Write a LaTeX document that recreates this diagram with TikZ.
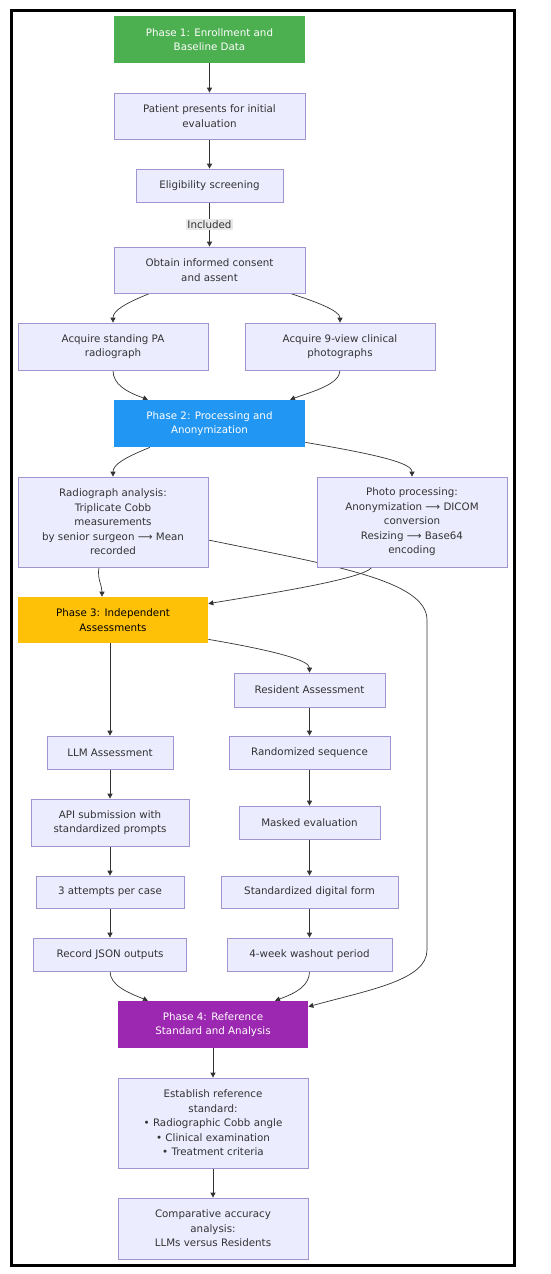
\documentclass[tikz,border=0pt]{standalone}
\usepackage{fontspec}
\setmainfont{DejaVu Sans}
\usetikzlibrary{arrows.meta}
\definecolor{nodefill}{HTML}{ECECFF}
\definecolor{nodeline}{HTML}{A095D2}
\definecolor{edgecol}{HTML}{333333}
\definecolor{txt}{HTML}{333333}
\definecolor{pgreen}{HTML}{4CAF50}
\definecolor{pblue}{HTML}{2196F3}
\definecolor{pamber}{HTML}{FFC107}
\definecolor{ppurple}{HTML}{9C27B0}
\definecolor{lblbg}{HTML}{E8E8E8}
\pgfdeclarelayer{edges}
\pgfsetlayers{edges,main}
\begin{document}
\begin{tikzpicture}[x=1pt,y=-1pt,
  box/.style={draw=nodeline, fill=nodefill, line width=0.7pt, text=txt, align=center,
    inner sep=0pt, font=\fontsize{10.3}{14.5}\selectfont},
  phase/.style={box, draw=none, text=white},
  sz/.style 2 args={minimum width=#1pt, minimum height=#2pt},
  arr/.style={draw=edgecol, line width=0.7pt, -{Triangle[length=5pt,width=5pt]}},
  lbl/.style={fill=lblbg, text=txt, inner sep=1.5pt, font=\fontsize{10.3}{12}\selectfont},
]
\useasboundingbox (0,0) rectangle (550,1274);
\draw[line width=3pt] (11.5,10) rectangle (514,1265);

\node[phase, fill=pgreen, sz={191}{47}] (p1) at (209.5,39.5) {Phase 1: Enrollment and\\Baseline Data};
\node[box, sz={191}{46}] (patient) at (209.5,116) {Patient presents for initial\\evaluation};
\node[box, sz={147}{33}] (elig) at (209.5,185.5) {Eligibility screening};
\node[box, sz={191}{46}] (consent) at (209.5,270) {Obtain informed consent\\and assent};
\node[box, sz={190}{47}] (pa) at (113,346.5) {Acquire standing PA\\radiograph};
\node[box, sz={190}{47}] (nine) at (340,346.5) {Acquire 9-view clinical\\photographs};
\node[phase, fill=pblue, sz={191}{47}] (p2) at (209.5,423.5) {Phase 2: Processing and\\Anonymization};
\node[box, sz={190}{90}] (radio) at (113,522) {Radiograph analysis:\\Triplicate Cobb\\measurements\\by senior surgeon ⟶ Mean\\recorded};
\node[box, sz={190}{90}] (photo) at (412,522) {Photo processing:\\Anonymization ⟶ DICOM\\conversion\\Resizing ⟶ Base64\\encoding};
\node[phase, fill=pamber, text=black, sz={190}{46}] (p3) at (113,620) {Phase 3: Independent\\Assessments};
\node[box, sz={151}{34}] (resident) at (309.5,690) {Resident Assessment};
\node[box, sz={126}{33}] (llm) at (110,752.5) {LLM Assessment};
\node[box, sz={161}{33}] (random) at (309.5,752.5) {Randomized sequence};
\node[box, sz={158}{47}] (api) at (110,822.5) {API submission with\\standardized prompts};
\node[box, sz={141}{33}] (masked) at (309.5,822.5) {Masked evaluation};
\node[box, sz={148}{32}] (attempts) at (110,892) {3 attempts per case};
\node[box, sz={177}{32}] (stdform) at (309.5,892) {Standardized digital form};
\node[box, sz={153}{33}] (record) at (110,954.5) {Record JSON outputs};
\node[box, sz={165}{33}] (washout) at (309.5,954.5) {4-week washout period};
\node[phase, fill=ppurple, sz={190}{47}] (p4) at (213,1024.5) {Phase 4: Reference\\Standard and Analysis};
\node[box, sz={190}{90}] (establish) at (213,1123) {Establish reference\\standard:\\• Radiographic Cobb angle\\• Clinical examination\\• Treatment criteria};
\node[box, sz={190}{61}] (compare) at (213,1228.5) {Comparative accuracy\\analysis:\\LLMs versus Residents};

\coordinate (bendA) at (427,620);
\coordinate (bendB) at (427,950);

\begin{pgfonlayer}{edges}
\draw[arr] (p1) -- (patient);
\draw[arr] (patient) -- (elig);
\draw[arr] (elig) -- node[lbl] {Included} (consent);
\draw[arr] ([xshift=-59.5pt]consent.south) .. controls +(-25,10) and +(0,-12) .. (pa.north);
\draw[arr] ([xshift=80.5pt]consent.south) .. controls +(25,8) and +(0,-12) .. (nine.north);
\draw[arr] (pa.south) .. controls +(0,14) and +(-22,-8) .. ([xshift=-61.5pt]p2.north);
\draw[arr] (nine.south) .. controls +(0,14) and +(22,-8) .. ([xshift=80.5pt]p2.north);
\draw[arr] ([xshift=-59.5pt]p2.south) .. controls +(-25,10) and +(0,-12) .. (radio.north);
\draw[arr] ([yshift=5pt]p2.south east) .. controls +(70,12) and +(0,-14) .. (photo.north);
\draw[arr] ([xshift=-14pt]radio.south) .. controls +(-2,12) and +(0,-12) .. ([xshift=-11pt]p3.north);
\draw[arr] ([xshift=-40pt]photo.south) .. controls +(-10,12) and +(60,-10) .. ([yshift=-7pt]p3.north east);
\draw[arr] ([yshift=-18pt]radio.east) .. controls +(122,25) and +(0,-40) .. (bendA) -- (bendB)
   .. controls +(0,30) and +(62,-17) .. ([yshift=-6pt]p4.north east);
\draw[arr] (p3.south -| llm.north) -- (llm.north);
\draw[arr] ([yshift=4pt]p3.south east) .. controls +(70,12) and +(0,-12) .. (resident.north);
\draw[arr] (resident) -- (random);
\draw[arr] (random) -- (masked);
\draw[arr] (masked) -- (stdform);
\draw[arr] (stdform) -- (washout);
\draw[arr] (llm) -- (api);
\draw[arr] (api) -- (attempts);
\draw[arr] (attempts) -- (record);
\draw[arr] (record.south) .. controls +(0,14) and +(-20,-8) .. ([xshift=-65pt]p4.north);
\draw[arr] (washout.south) .. controls +(0,14) and +(22,-8) .. ([xshift=62pt]p4.north);
\draw[arr] (p4) -- (establish);
\draw[arr] (establish) -- (compare);
\end{pgfonlayer}
\end{tikzpicture}
\end{document}
